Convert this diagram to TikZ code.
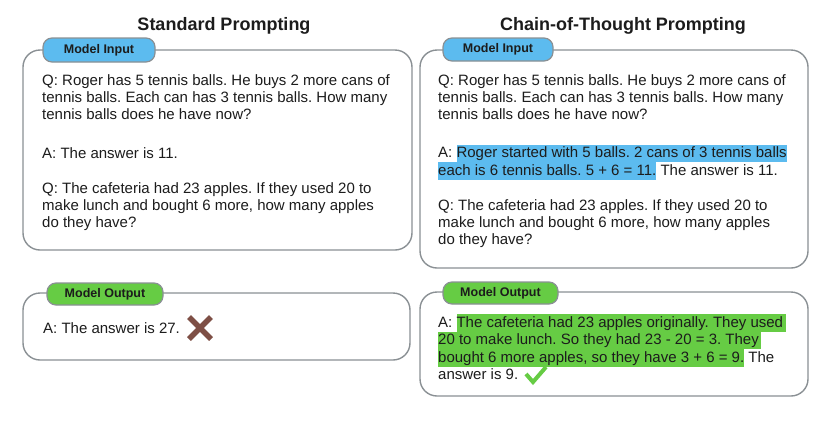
\documentclass[tikz,border=0pt]{standalone}
\usepackage{fontspec}
\setmainfont{Liberation Sans}
\usetikzlibrary{calc}
\frenchspacing
\definecolor{bordergray}{HTML}{8A9094}
\definecolor{textdark}{HTML}{1C1C1C}
\definecolor{tagblue}{HTML}{5CBBEF}
\definecolor{taggreen}{HTML}{66CC44}
\definecolor{xbrown}{HTML}{7E4F45}
\newcommand{\hlstrut}{\rule[-4.5pt]{0pt}{17.5pt}}
\newcommand{\hlb}[1]{{\setlength{\fboxsep}{0pt}\colorbox{tagblue}{\hlstrut#1}}}
\newcommand{\hlg}[1]{{\setlength{\fboxsep}{0pt}\colorbox{taggreen}{\hlstrut#1}}}
\tikzset{
  panel/.style={draw=bordergray, line width=1.4pt, rounded corners=17pt, fill=white, inner sep=0pt},
  tagbox/.style={draw=bordergray, line width=1.2pt, rounded corners=9pt, inner sep=0pt,
    font=\fontsize{12.5}{14}\selectfont\bfseries, text=textdark},
  txt/.style={anchor=base west, inner sep=0pt, font=\fontsize{15}{17}\selectfont\frenchspacing, text=textdark},
  titletxt/.style={anchor=base, inner sep=0pt, font=\fontsize{18}{20}\selectfont\bfseries, text=textdark}
}
\begin{document}
\begin{tikzpicture}[x=1pt,y=-1pt]
\useasboundingbox (0,0) rectangle (823,421);
% titles
\node[titletxt] (t1) at (224,30) {Standard Prompting};
\node[titletxt] (t2) at (623,30) {Chain-of-Thought Prompting};
% panels
\node[panel, minimum width=389pt, minimum height=200pt] (lin) at (217.5,150) {};
\node[panel, minimum width=387pt, minimum height=67pt] (lout) at (216.5,326.5) {};
\node[panel, minimum width=388pt, minimum height=218pt] (rin) at (614,159) {};
\node[panel, minimum width=388pt, minimum height=104pt] (rout) at (614,344) {};
% tags
\node[tagbox, fill=tagblue, minimum width=112pt, minimum height=24pt] (lintag) at (99,50) {Model Input};
\node[tagbox, fill=tagblue, minimum width=110pt, minimum height=23pt] (rintag) at (498,49.5) {Model Input};
\node[tagbox, fill=taggreen, minimum width=116pt, minimum height=22pt] (louttag) at (105,294) {Model Output};
\node[tagbox, fill=taggreen, minimum width=115pt, minimum height=22pt] (routtag) at (500.5,293) {Model Output};
% left input text
\node[txt] (l1) at (42,85.5) {Q: Roger has 5 tennis balls. He buys 2 more cans of};
\node[txt] (l2) at (42,102.5) {tennis balls. Each can has 3 tennis balls. How many};
\node[txt] (l3) at (42,119.5) {tennis balls does he have now?};
\node[txt] (l4) at (42,158) {A: The answer is 11.};
\node[txt] (l5) at (42,193) {Q: The cafeteria had 23 apples. If they used 20 to};
\node[txt] (l6) at (42,210) {make lunch and bought 6 more, how many apples};
\node[txt] (l7) at (42,227) {do they have?};
% left output
\node[txt] (lo1) at (43,333.5) {A: The answer is 27.};
% right input text
\node[txt] (r1) at (438,85.5) {Q: Roger has 5 tennis balls. He buys 2 more cans of};
\node[txt] (r2) at (438,102.5) {tennis balls. Each can has 3 tennis balls. How many};
\node[txt] (r3) at (438,119.5) {tennis balls does he have now?};
\node[txt] (r4) at (438,157.5) {A: \hlb{Roger started with 5 balls. 2 cans of 3 tennis balls}};
\node[txt] (r5) at (438,175) {\hlb{each is 6 tennis balls. 5 + 6 = 11.} The answer is 11.};
\node[txt] (r6) at (438,210) {Q: The cafeteria had 23 apples. If they used 20 to};
\node[txt] (r7) at (438,227) {make lunch and bought 6 more, how many apples};
\node[txt] (r8) at (438,244) {do they have?};
% right output
\node[txt] (ro1) at (438,327) {A: \hlg{The cafeteria had 23 apples originally. They used\,}};
\node[txt] (ro2) at (438,344.5) {\hlg{20 to make lunch. So they had 23 - 20 = 3. They\,}};
\node[txt] (ro3) at (438,362) {\hlg{bought 6 more apples, so they have 3 + 6 = 9.} The};
\node[txt] (ro4) at (438,379.5) {answer is 9.};
% cross mark
\coordinate (xc) at (200,328);
\draw[xbrown, line width=5.5pt] ($(xc)+(-11,-11)$) -- ($(xc)+(11,11)$) ($(xc)+(11,-11)$) -- ($(xc)+(-11,11)$);
% check mark
\coordinate (ck) at (533,382);
\draw[taggreen, line width=4pt, line join=miter] ($(ck)+(-7,-8)$) -- (ck) -- ($(ck)+(13,-15)$);
\end{tikzpicture}
\end{document}
